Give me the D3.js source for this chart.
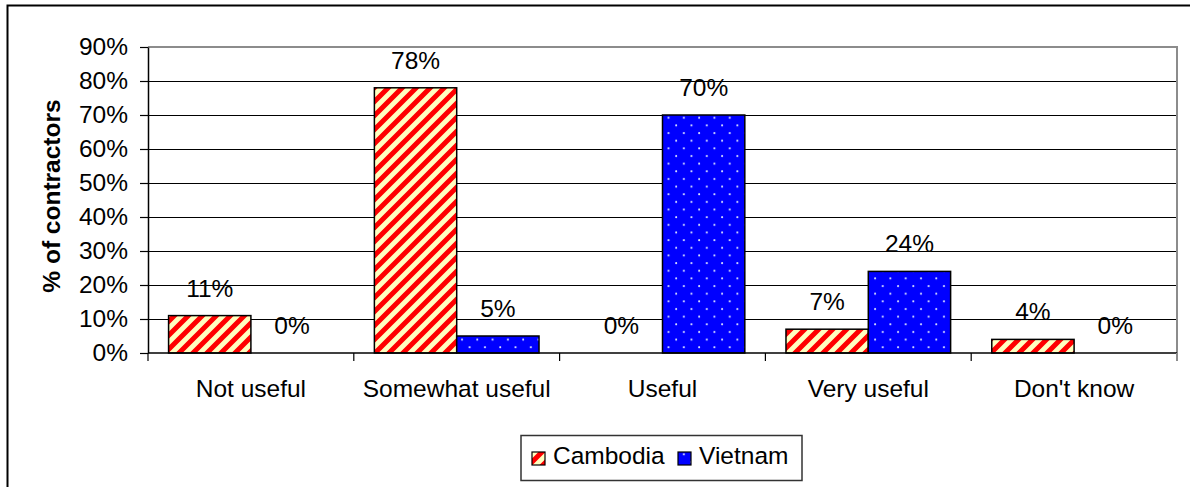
<!DOCTYPE html>
<html>
<head>
<meta charset="utf-8">
<script src="https://cdn.jsdelivr.net/npm/d3@7"></script>
<style>
  body { margin:0; background:#fff; }
  text { font-family: "Liberation Sans", Arial, sans-serif; font-size:24.5px; fill:#000; }
</style>
</head>
<body>
<div id="chart"></div>
<script>
const categories = ["Not useful", "Somewhat useful", "Useful", "Very useful", "Don't know"];
const series = ["Cambodia", "Vietnam"];
const cambodia = [11, 78, 0, 7, 4];
const vietnam  = [0, 5, 70, 24, 0];
const yTicks = [0, 10, 20, 30, 40, 50, 60, 70, 80, 90];

const W = 1190, H = 487;
const plot = { left:148, right:1177, top:47, bottom:353 };

const svg = d3.select("#chart").append("svg")
  .attr("width", W).attr("height", H);

// patterns
const defs = svg.append("defs");
const pc = defs.append("pattern").attr("id","pat-cam")
  .attr("patternUnits","userSpaceOnUse").attr("width",14).attr("height",14);
pc.append("rect").attr("width",14).attr("height",14).attr("fill","#ffffc0");
pc.append("path")
  .attr("d","M-3.5,3.5L3.5,-3.5M0,14L14,0M10.5,17.5L17.5,10.5")
  .attr("stroke","#ff0000").attr("stroke-width",5);

const pv = defs.append("pattern").attr("id","pat-vn")
  .attr("patternUnits","userSpaceOnUse").attr("width",15.3).attr("height",15.3);
pv.append("rect").attr("width",15.3).attr("height",15.3).attr("fill","#0000ff");
pv.append("circle").attr("cx",3).attr("cy",3).attr("r",1).attr("fill","#dde4ff");
pv.append("circle").attr("cx",10.65).attr("cy",10.65).attr("r",1).attr("fill","#dde4ff");

const fills = { Cambodia:"url(#pat-cam)", Vietnam:"url(#pat-vn)" };
const values = { Cambodia:cambodia, Vietnam:vietnam };

// outer frame (only top/left visible)
svg.append("rect").attr("x",7.5).attr("y",5.5).attr("width",1300).attr("height",600)
  .attr("fill","none").attr("stroke","#000").attr("stroke-width",2);

const x = d3.scaleBand().domain(categories).range([plot.left, plot.right]).padding(0);
const xs = d3.scaleBand().domain(series).range([0, x.bandwidth()])
  .paddingInner(0).paddingOuter(0.25);
const y = d3.scaleLinear().domain([0, 90]).range([plot.bottom, plot.top]);

// gridlines
svg.append("g").selectAll("line").data(yTicks.filter(t => t > 0 && t < 90)).join("line")
  .attr("x1", plot.left).attr("x2", plot.right)
  .attr("y1", d => Math.round(y(d)) + 0.5).attr("y2", d => Math.round(y(d)) + 0.5)
  .attr("stroke", "#000").attr("stroke-width", 1);

// plot area border (top / right) in gray
svg.append("path")
  .attr("d", `M${plot.left},${y(90)}H${plot.right}V${plot.bottom}`)
  .attr("fill","none").attr("stroke","#8c8c8c").attr("stroke-width",2);

// bars
categories.forEach((c, i) => {
  series.forEach(s => {
    const v = values[s][i];
    if (v > 0) {
      svg.append("rect")
        .attr("x", x(c) + xs(s)).attr("width", xs.bandwidth())
        .attr("y", y(v)).attr("height", y(0) - y(v))
        .attr("fill", fills[s]).attr("stroke", "#000").attr("stroke-width", 1.5);
    }
    svg.append("text")
      .attr("x", x(c) + xs(s) + xs.bandwidth() / 2)
      .attr("y", y(v) - 19)
      .attr("text-anchor", "middle")
      .text(v + "%");
  });
});

// y axis
const yAxis = svg.append("g").attr("transform", `translate(${plot.left},0)`)
  .call(d3.axisLeft(y).tickValues(yTicks).tickSize(8).tickSizeOuter(0).tickPadding(12)
    .tickFormat(d => d + "%"));
yAxis.selectAll("text").style("font-family","'Liberation Sans', Arial, sans-serif")
  .style("font-size","24.5px").attr("fill","#000");
yAxis.selectAll("line").attr("stroke","#000").attr("stroke-width",1.2);
yAxis.select(".domain").attr("stroke","#000").attr("stroke-width",1.5);

// x axis line + category boundary ticks
svg.append("line").attr("x1", plot.left).attr("x2", plot.right)
  .attr("y1", y(0)).attr("y2", y(0)).attr("stroke","#000").attr("stroke-width",1.5);
const bounds = categories.map(c => x(c)).concat([x.range()[1]]);
svg.append("g").selectAll("line").data(bounds).join("line")
  .attr("x1", d => d).attr("x2", d => d)
  .attr("y1", y(0)).attr("y2", y(0) + 8)
  .attr("stroke", (d, i) => i === bounds.length - 1 ? "#8c8c8c" : "#000")
  .attr("stroke-width", (d, i) => i === bounds.length - 1 ? 2 : 1.2);

svg.append("g").selectAll("text").data(categories).join("text")
  .attr("x", d => x(d) + x.bandwidth() / 2)
  .attr("y", 397)
  .attr("text-anchor", "middle")
  .text(d => d);

// y axis title
svg.append("text")
  .attr("transform", "translate(60,196) rotate(-90)")
  .attr("text-anchor", "middle")
  .style("font-weight", "bold")
  .text("% of contractors");

// legend
const lg = svg.append("g");
lg.append("rect").attr("x", 521).attr("y", 435.5).attr("width", 281).attr("height", 45)
  .attr("fill", "#fff").attr("stroke", "#333").attr("stroke-width", 1.5);
const legendX = { Cambodia: 532, Vietnam: 678 };
series.forEach(s => {
  lg.append("rect").attr("x", legendX[s]).attr("y", 452).attr("width", 13).attr("height", 13)
    .attr("fill", fills[s]).attr("stroke", "#000").attr("stroke-width", 1.2);
  lg.append("text").attr("x", legendX[s] + 21).attr("y", 464).text(s);
});
</script>
</body>
</html>
